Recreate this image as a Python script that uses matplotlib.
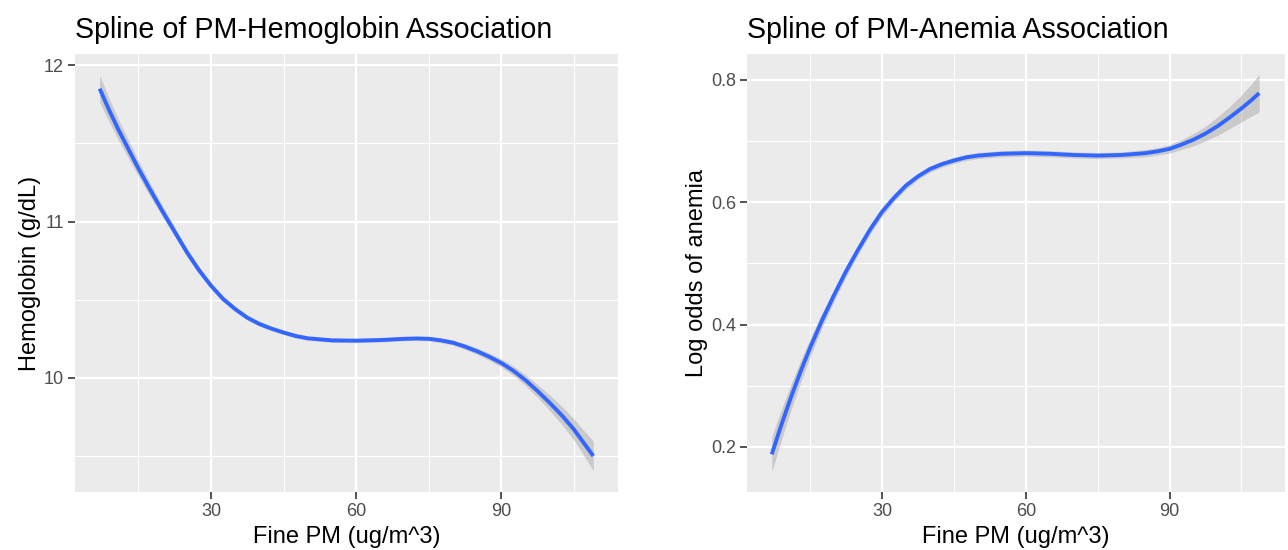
import numpy as np
import matplotlib
matplotlib.use("Agg")
import matplotlib.pyplot as plt
from matplotlib.ticker import MultipleLocator

plt.rcParams['font.family'] = ['Liberation Sans', 'DejaVu Sans']

# values
pm = [7, 9, 11, 13, 15, 17.5, 20, 22.5, 25, 27.5, 30, 32.5, 35, 37.5, 40, 42.5, 45, 47.5, 50,
      55, 60, 65, 70, 72.5, 75, 77.5, 80, 82.5, 85, 87.5, 90, 92.5, 95, 97.5, 100, 102.5, 105, 107, 109]
hgb_fit = [11.85, 11.71, 11.58, 11.46, 11.34, 11.20, 11.065, 10.935, 10.805, 10.69, 10.59, 10.505,
           10.44, 10.385, 10.345, 10.315, 10.29, 10.268, 10.253, 10.24, 10.238, 10.242, 10.25,
           10.252, 10.25, 10.24, 10.225, 10.20, 10.17, 10.135, 10.095, 10.045, 9.985, 9.915,
           9.84, 9.76, 9.67, 9.585, 9.50]
hgb_se = [0.085, 0.075, 0.066, 0.058, 0.05, 0.042, 0.035, 0.03, 0.026, 0.022, 0.02, 0.018,
          0.016, 0.015, 0.014, 0.014, 0.013, 0.013, 0.013, 0.013, 0.013, 0.013, 0.013,
          0.013, 0.014, 0.015, 0.016, 0.018, 0.02, 0.023, 0.026, 0.03, 0.035, 0.041,
          0.05, 0.058, 0.068, 0.08, 0.095]

pm2 = [7, 9, 11, 13, 15, 17.5, 20, 22.5, 25, 27.5, 30, 32.5, 35, 37.5, 40, 42.5, 45, 47.5, 50,
       55, 60, 65, 70, 75, 80, 85, 87.5, 90, 92.5, 95, 97.5, 100, 102.5, 105, 107, 108.7]
anem_fit = [0.188, 0.236, 0.281, 0.323, 0.362, 0.407, 0.448, 0.487, 0.522, 0.555, 0.584, 0.607,
            0.627, 0.642, 0.654, 0.662, 0.668, 0.673, 0.676, 0.679, 0.680, 0.679, 0.677,
            0.676, 0.677, 0.680, 0.683, 0.687, 0.694, 0.702, 0.712, 0.724, 0.738, 0.753,
            0.766, 0.778]
anem_se = [0.029, 0.025, 0.021, 0.018, 0.015, 0.012, 0.01, 0.009, 0.008, 0.007, 0.007, 0.006,
           0.006, 0.005, 0.005, 0.005, 0.005, 0.005, 0.005, 0.005, 0.005, 0.005, 0.005,
           0.005, 0.005, 0.006, 0.006, 0.007, 0.008, 0.01, 0.012, 0.015, 0.018, 0.022,
           0.026, 0.031]

panels = [
    dict(x=pm, y=hgb_fit, se=hgb_se, title="Spline of PM-Hemoglobin Association",
         ylabel="Hemoglobin (g/dL)", ylim=(9.27, 12.07), ymaj=1, ymin=0.5,
         pos=[0.0582, 0.1055, 0.4216, 0.7958], yfmt="{:.0f}"),
    dict(x=pm2, y=anem_fit, se=anem_se, title="Spline of PM-Anemia Association",
         ylabel="Log odds of anemia", ylim=(0.1265, 0.8415), ymaj=0.2, ymin=0.1,
         pos=[0.5802, 0.1055, 0.4175, 0.7958], yfmt="{:.1f}"),
]

fig = plt.figure(figsize=(12.88, 5.5), dpi=100)

for p in panels:
    ax = fig.add_axes(p["pos"])
    ax.set_facecolor("#EBEBEB")
    x = np.array(p["x"])
    y = np.array(p["y"])
    se = np.array(p["se"])
    ax.fill_between(x, y - se, y + se, color="#999999", alpha=0.4, linewidth=0, zorder=2)
    ax.plot(x, y, color="#3366FF", lw=2.8, solid_capstyle="butt",
            solid_joinstyle="round", zorder=3)

    ax.set_xlim(1.9, 114.1)
    ax.set_ylim(*p["ylim"])
    ax.xaxis.set_major_locator(MultipleLocator(30))
    ax.xaxis.set_minor_locator(MultipleLocator(15))
    ax.yaxis.set_major_locator(MultipleLocator(p["ymaj"]))
    ax.yaxis.set_minor_locator(MultipleLocator(p["ymin"]))
    ax.set_yticks(ax.get_yticks())
    ax.set_yticklabels([p["yfmt"].format(v) for v in ax.get_yticks()])
    ax.set_ylim(*p["ylim"])

    ax.grid(which="major", color="white", lw=1.6, zorder=1)
    ax.grid(which="minor", color="white", lw=0.8, zorder=1)
    ax.set_axisbelow(True)
    for s in ax.spines.values():
        s.set_visible(False)
    ax.tick_params(which="major", length=5, width=1.2, color="#333333",
                   labelsize=13, labelcolor="#4D4D4D", pad=3)
    ax.tick_params(which="minor", length=0)

    ax.set_xlabel("Fine PM (ug/m^3)", fontsize=17, color="black", labelpad=4)
    ax.set_ylabel(p["ylabel"], fontsize=17, color="black", labelpad=2)
    ax.set_title(p["title"], loc="left", fontsize=20.6, color="black", pad=12)

fig.savefig("out.png", dpi=100)
